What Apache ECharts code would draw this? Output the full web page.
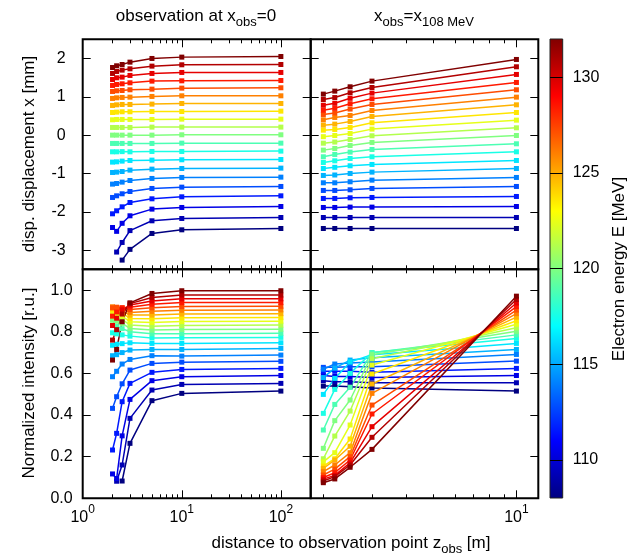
<!DOCTYPE html>
<html><head><meta charset="utf-8">
<script src="https://cdn.jsdelivr.net/npm/echarts@6/dist/echarts.min.js"></script>
<style>html,body{margin:0;padding:0;background:#fff}#c{width:644px;height:557px}</style>
</head><body><div id="c"></div>
<script>
// ---------- data ----------
const energies = [108,109.2,110.4,111.6,112.8,114,115.2,116.4,117.6,118.8,120,121.2,122.4,123.6,124.8,126,127.2,128.4,129.6,130.8,132];
const zLeft = [2,2.2,2.5,3,5,10,100];
const zRight = [2,2.2,2.5,3,10];
// rows follow energies (108 -> 132)
const dispLeft = [
[null,null,-3.26,-2.98,-2.565,-2.47,-2.435],
[null,-3.05,-2.80,-2.49,-2.235,-2.174,-2.148],
[-2.41,-2.51,-2.30,-2.104,-1.93,-1.887,-1.861],
[-2.052,-1.974,-1.87,-1.757,-1.661,-1.609,-1.583],
[-1.626,-1.583,-1.53,-1.47,-1.391,-1.357,-1.339],
[-1.278,-1.261,-1.226,-1.183,-1.13,-1.104,-1.096],
[-0.974,-0.965,-0.948,-0.913,-0.887,-0.87,-0.861],
[-0.704,-0.696,-0.678,-0.661,-0.652,-0.643,-0.635],
[-0.435,-0.435,-0.43,-0.435,-0.426,-0.426,-0.417],
[-0.217,-0.217,-0.217,-0.217,-0.217,-0.209,-0.209],
[0,0,0,0,0,0.009,0.009],
[0.2,0.2,0.2,0.2,0.209,0.209,0.209],
[0.4,0.409,0.409,0.409,0.409,0.417,0.417],
[0.591,0.6,0.609,0.609,0.617,0.617,0.626],
[0.774,0.791,0.8,0.8,0.809,0.826,0.826],
[0.957,0.974,0.983,0.991,1.009,1.026,1.026],
[1.139,1.157,1.165,1.183,1.2,1.226,1.235],
[1.296,1.322,1.339,1.365,1.409,1.417,1.426],
[1.452,1.496,1.513,1.557,1.609,1.635,1.635],
[1.609,1.661,1.696,1.73,1.8,1.835,1.843],
[1.765,1.809,1.843,1.904,2.0,2.035,2.052]
];
const dispRight = [
[-2.435,-2.435,-2.435,-2.435,-2.435],
[-2.148,-2.148,-2.148,-2.148,-2.148],
[-1.887,-1.887,-1.878,-1.878,-1.861],
[-1.652,-1.652,-1.635,-1.626,-1.6],
[-1.443,-1.443,-1.426,-1.391,-1.339],
[-1.243,-1.243,-1.217,-1.174,-1.104],
[-1.052,-1.04,-1.0,-0.965,-0.87],
[-0.87,-0.84,-0.80,-0.765,-0.661],
[-0.713,-0.67,-0.609,-0.565,-0.435],
[-0.565,-0.504,-0.443,-0.374,-0.226],
[-0.391,-0.348,-0.27,-0.191,-0.009],
[-0.21,-0.18,-0.113,-0.017,0.191],
[-0.04,-0.01,0.043,0.157,0.391],
[0.13,0.148,0.2,0.322,0.591],
[0.261,0.287,0.357,0.487,0.791],
[0.40,0.461,0.513,0.643,0.991],
[0.539,0.58,0.68,0.8,1.183],
[0.652,0.70,0.82,0.948,1.374],
[0.78,0.83,0.96,1.096,1.583],
[0.93,0.98,1.104,1.243,1.783],
[1.07,1.148,1.261,1.409,1.974]
];
const intLeft = [
[null,null,0.083,0.264,0.469,0.504,0.515],
[null,0.082,0.16,0.384,0.52,0.547,0.552],
[0.117,0.095,0.30,0.475,0.565,0.584,0.59],
[0.232,0.312,0.464,0.552,0.605,0.619,0.624],
[0.432,0.488,0.55,0.616,0.648,0.654,0.658],
[0.584,0.61,0.645,0.667,0.685,0.683,0.688],
[0.685,0.69,0.70,0.712,0.715,0.715,0.72],
[0.735,0.74,0.743,0.747,0.744,0.744,0.747],
[0.795,0.79,0.785,0.779,0.77,0.771,0.773],
[0.83,0.825,0.815,0.80,0.79,0.791,0.793],
[0.855,0.85,0.84,0.816,0.808,0.811,0.812],
[0.875,0.87,0.86,0.832,0.827,0.83,0.832],
[0.89,0.885,0.875,0.848,0.845,0.849,0.851],
[0.905,0.90,0.89,0.864,0.863,0.867,0.869],
[0.915,0.91,0.90,0.88,0.88,0.885,0.887],
[0.92,0.915,0.91,0.893,0.898,0.903,0.905],
[0.915,0.918,0.915,0.907,0.915,0.921,0.922],
[0.875,0.895,0.915,0.918,0.932,0.94,0.94],
[0.83,0.865,0.905,0.928,0.948,0.958,0.958],
[0.76,0.81,0.885,0.935,0.965,0.977,0.976],
[0.664,0.715,0.848,0.939,0.984,0.997,0.997]
];
const intRight = [
[0.539,0.539,0.536,0.53,0.515],
[0.565,0.56,0.56,0.555,0.555],
[0.59,0.585,0.585,0.58,0.59],
[0.61,0.61,0.61,0.605,0.624],
[0.629,0.63,0.632,0.632,0.659],
[0.62,0.645,0.65,0.655,0.691],
[0.58,0.625,0.664,0.675,0.715],
[0.499,0.576,0.655,0.69,0.744],
[0.408,0.523,0.60,0.70,0.768],
[0.328,0.451,0.533,0.699,0.785],
[0.24,0.373,0.472,0.69,0.802],
[0.19,0.299,0.419,0.67,0.819],
[0.175,0.219,0.352,0.64,0.836],
[0.155,0.19,0.285,0.597,0.853],
[0.144,0.184,0.25,0.549,0.87],
[0.128,0.16,0.219,0.504,0.887],
[0.112,0.14,0.20,0.448,0.904],
[0.10,0.123,0.184,0.405,0.921],
[0.092,0.11,0.17,0.344,0.938],
[0.083,0.104,0.16,0.293,0.955],
[0.075,0.093,0.149,0.235,0.971]
];
const xRangeLeft = [1,200];
const xRangeRight = [1.8,12];
const yRangeDisp = [-3.5,2.5];
const yRangeInt = [0,1.1];
const xMajorLeft = [1,10,100];
const xMinorLeft = [2,3,4,5,6,7,8,9,20,30,40,50,60,70,80,90,200];
const xMajorRight = [10];
const xMinorRight = [2,3,4,5,6,7,8,9];
const yTicksDisp = [-3,-2,-1,0,1,2];
const yTicksInt = [0,0.2,0.4,0.6,0.8,1.0];
const cbRange = [108,132];
const cbTicks = [110,115,120,125,130];

// ---------- style ----------
const FONT = '"Liberation Sans", Arial, Helvetica, sans-serif';
function jet(e){
  const t=(e-cbRange[0])/(cbRange[1]-cbRange[0]);
  const c=v=>Math.round(255*Math.max(0,Math.min(1,v)));
  return 'rgb('+c(1.5-Math.abs(4*t-3))+','+c(1.5-Math.abs(4*t-2))+','+c(1.5-Math.abs(4*t-1))+')';
}
const tickStyle = {color:'#000', width:1};
const supRich = {
  b:{fontSize:16, fontFamily:FONT, color:'#000', verticalAlign:'bottom'},
  s:{fontSize:12, fontFamily:FONT, color:'#000', verticalAlign:'bottom', padding:[0,0,10,0]}
};
function xAxes(gi, range, major, minor, labels){
  const base = {type:'log', logBase:10, gridIndex:gi, min:range[0], max:range[1],
    splitLine:{show:false}, axisLine:{show:false,onZero:false}, minorTick:{show:false}, z:3};
  return [
    Object.assign({}, base, {position:'bottom',
      axisTick:{show:true, inside:true, length:8, customValues:major, lineStyle:tickStyle},
      axisLabel: labels ? {show:true, customValues:major, margin:5,
        formatter:v=>'{b|10}{s|'+Math.round(Math.log10(v))+'}', rich:supRich} : {show:false}}),
    Object.assign({}, base, {position:'bottom',
      axisTick:{show:true, inside:true, length:4, customValues:minor, lineStyle:tickStyle}, axisLabel:{show:false}}),
    Object.assign({}, base, {position:'top',
      axisTick:{show:true, inside:true, length:8, customValues:major, lineStyle:tickStyle}, axisLabel:{show:false}}),
    Object.assign({}, base, {position:'top',
      axisTick:{show:true, inside:true, length:4, customValues:minor, lineStyle:tickStyle}, axisLabel:{show:false}})
  ];
}
function yAxes(gi, range, ticks, labels, fmt, margin){
  const base = {type:'value', gridIndex:gi, min:range[0], max:range[1],
    splitLine:{show:false}, axisLine:{show:false,onZero:false}, z:3};
  return [
    Object.assign({}, base, {position:'left',
      axisTick:{show:true, inside:true, length:8, customValues:ticks, lineStyle:tickStyle},
      axisLabel: labels ? {show:true, customValues:ticks, formatter:fmt, margin:margin,
        fontSize:16, fontFamily:FONT, color:'#000'} : {show:false}}),
    Object.assign({}, base, {position:'right',
      axisTick:{show:true, inside:true, length:8, customValues:ticks, lineStyle:tickStyle}, axisLabel:{show:false}})
  ];
}
const panelGrid = {show:true, borderColor:'#000', borderWidth:2, backgroundColor:'transparent'};
const grids = [
  Object.assign({left:82.7, top:39.3, width:228, height:230}, panelGrid),
  Object.assign({left:310.7, top:39.3, width:227.6, height:230}, panelGrid),
  Object.assign({left:82.7, top:269.3, width:228, height:229}, panelGrid),
  Object.assign({left:310.7, top:269.3, width:227.6, height:229}, panelGrid),
  {left:550, top:39, width:12.7, height:459, show:false}
];
const xAxisList = [].concat(
  xAxes(0, xRangeLeft, xMajorLeft, xMinorLeft, false),
  xAxes(1, xRangeRight, xMajorRight, xMinorRight, false),
  xAxes(2, xRangeLeft, xMajorLeft, xMinorLeft, true),
  xAxes(3, xRangeRight, xMajorRight, xMinorRight, true),
  [{type:'value', gridIndex:4, min:0, max:1, show:false}]
);
const yAxisList = [].concat(
  yAxes(0, yRangeDisp, yTicksDisp, true, v=>String(v), 17),
  yAxes(1, yRangeDisp, yTicksDisp, false),
  yAxes(2, yRangeInt, yTicksInt, true, v=>v.toFixed(1), 10),
  yAxes(3, yRangeInt, yTicksInt, false),
  [{type:'value', gridIndex:4, min:cbRange[0], max:cbRange[1], position:'right', z:10,
    splitLine:{show:false}, axisLine:{show:false,onZero:false},
    axisTick:{show:true, inside:true, length:12.7, customValues:cbTicks, lineStyle:tickStyle},
    axisLabel:{show:true, customValues:cbTicks, margin:10, fontSize:16, fontFamily:FONT, color:'#000'}}]
);
function mkLines(xs, table, xi, yi){
  return energies.map((e,k)=>({
    type:'line', xAxisIndex:xi, yAxisIndex:yi,
    data: xs.map((x,j)=>[x, table[k][j]]).filter(p=>p[1]!==null),
    symbol:'rect', symbolSize:5, showSymbol:true,
    lineStyle:{color:jet(e), width:1.5}, itemStyle:{color:jet(e)},
    silent:true, animation:false
  }));
}
const series = [].concat(
  mkLines(zLeft, dispLeft, 0, 0),
  mkLines(zRight, dispRight, 4, 2),
  mkLines(zLeft, intLeft, 8, 4),
  mkLines(zRight, intRight, 12, 6),
  [{type:'custom', xAxisIndex:16, yAxisIndex:8, silent:true, animation:false,
    data:[[0, cbRange[0], 1, cbRange[1]]],
    renderItem:function(params, api){
      const p0 = api.coord([api.value(0), api.value(1)]);
      const p1 = api.coord([api.value(2), api.value(3)]);
      const stops = [0,0.125,0.375,0.625,0.875,1].map(t=>({offset:t, color:jet(cbRange[0]+t*(cbRange[1]-cbRange[0]))}));
      return {type:'rect', shape:{x:p0[0], y:p1[1], width:p1[0]-p0[0], height:p0[1]-p1[1]},
        style:{fill:new echarts.graphic.LinearGradient(0,1,0,0,stops), stroke:'#222', lineWidth:1}};
    }}]
);
const tRich = {
  a:{fontSize:17, fontFamily:FONT, fill:'#000', verticalAlign:'top'},
  s:{fontSize:13, fontFamily:FONT, fill:'#000', verticalAlign:'top', padding:[8,0,0,0]}
};
function txt(x, y, text, rot){
  return {type:'text', x:x, y:y, rotation:rot||0, silent:true,
    style:{text:text, rich:tRich, align:'center', verticalAlign:'middle', fontSize:17, fontFamily:FONT, fill:'#000'}};
}
const graphics = [
  txt(196, 18, '{a|observation at x}{s|obs}{a|=0}'),
  txt(424, 18, '{a|x}{s|obs}{a|=x}{s|108 MeV}'),
  txt(29, 154, '{a|disp. displacement x [mm]}', Math.PI/2),
  txt(29, 383, '{a|Normalized intensity [r.u.]}', Math.PI/2),
  txt(351, 545, '{a|distance to observation point z}{s|obs}{a| [m]}'),
  txt(619, 269, '{a|Electron energy E [MeV]}', Math.PI/2)
];
const chart = echarts.init(document.getElementById('c'), null, {renderer:'canvas'});
chart.setOption({
  animation:false,
  backgroundColor:'#fff',
  grid:grids, xAxis:xAxisList, yAxis:yAxisList, series:series, graphic:graphics
});
</script></body></html>
